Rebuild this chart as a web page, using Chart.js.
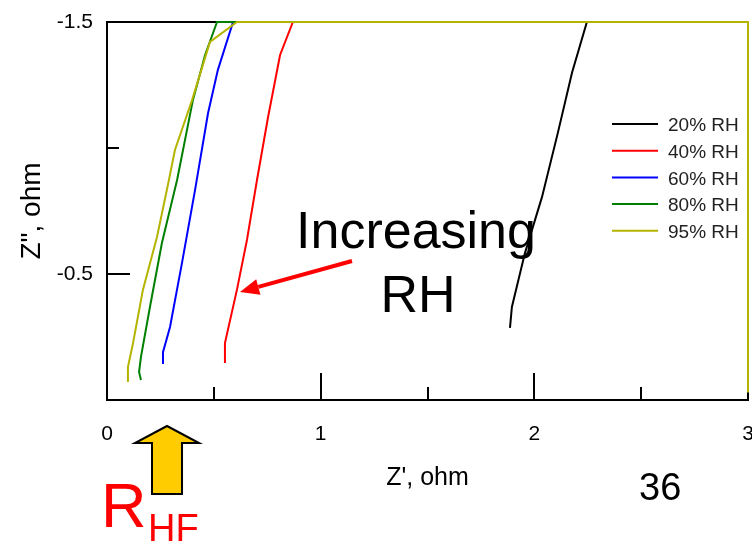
<!DOCTYPE html>
<html>
<head>
<meta charset="utf-8">
<script src="https://cdn.jsdelivr.net/npm/chart.js@4.4.1/dist/chart.umd.min.js"></script>
<style>
  html, body { margin: 0; padding: 0; background: #fff; }
</style>
</head>
<body>
<canvas id="chart" width="752" height="544"></canvas>
<script>
const FONT = "'Liberation Sans', Arial, sans-serif";

const RH_LABELS = ["20% RH", "40% RH", "60% RH", "80% RH", "95% RH"];
const COLORS = ["#000000", "#ff0000", "#0000ff", "#008000", "#b4b400"];

// Z' (x) and Z'' (y); points past the frame sit on the frame
const RH20_X = [1.886, 1.895, 1.956, 2.036, 2.110, 2.176, 2.246, 3.0];
const RH20_Y = [-0.286, -0.369, -0.583, -0.806, -1.060, -1.298, -1.5, -1.5];

const RH40_X = [0.552, 0.552, 0.608, 0.655, 0.702, 0.753, 0.810, 0.870, 3.0];
const RH40_Y = [-0.147, -0.226, -0.437, -0.635, -0.873, -1.119, -1.369, -1.5, -1.5];

const RH60_X = [0.262, 0.262, 0.295, 0.351, 0.412, 0.473, 0.519, 0.590, 3.0];
const RH60_Y = [-0.143, -0.190, -0.290, -0.544, -0.833, -1.139, -1.310, -1.5, -1.5];

const RH80_X = [0.159, 0.150, 0.159, 0.201, 0.257, 0.328, 0.402, 0.459, 0.515, 3.0];
const RH80_Y = [-0.079, -0.111, -0.171, -0.369, -0.623, -0.873, -1.190, -1.369, -1.5, -1.5];

const RH95_X = [0.098, 0.098, 0.122, 0.168, 0.234, 0.285, 0.318, 0.398, 0.482, 0.608, 3.0, 3.0];
const RH95_Y = [-0.071, -0.131, -0.226, -0.437, -0.647, -0.853, -0.992, -1.190, -1.421, -1.5, -1.5, -0.03];

const SERIES_X = [RH20_X, RH40_X, RH60_X, RH80_X, RH95_X];
const SERIES_Y = [RH20_Y, RH40_Y, RH60_Y, RH80_Y, RH95_Y];

const X_TICK_LABELS = [0, 1, 2, 3];
const Y_TICK_LABELS = [-1.5, -0.5];
const X_MINOR = [0.5, 1.5, 2.5];
const X_MAJOR = [1, 2];
const Y_MINOR = [-1];
const Y_MAJOR = [-0.5];

// later series are painted over earlier ones, like the original plot
const datasets = RH_LABELS.map((label, i) => ({
  label,
  data: SERIES_X[i].map((x, j) => ({ x, y: SERIES_Y[i][j] })),
  borderColor: COLORS[i],
  borderWidth: 2,
  showLine: true,
  pointRadius: 0,
  tension: 0,
  clip: false,
  order: RH_LABELS.length - i,
}));

// box frame + inward ticks, under the data
const framePlugin = {
  id: "frame",
  beforeDatasetsDraw(chart) {
    const { ctx, chartArea: a, scales } = chart;
    ctx.save();
    ctx.strokeStyle = "#000";
    ctx.lineWidth = 2;
    ctx.strokeRect(a.left, a.top, a.right - a.left, a.bottom - a.top);
    ctx.beginPath();
    X_MAJOR.concat(X_MINOR).forEach((v) => {
      const px = Math.round(scales.x.getPixelForValue(v));
      const len = X_MAJOR.includes(v) ? 27 : 13;
      ctx.moveTo(px, a.bottom);
      ctx.lineTo(px, a.bottom - len);
    });
    Y_MAJOR.concat(Y_MINOR).forEach((v) => {
      const py = Math.round(scales.y.getPixelForValue(v));
      const len = Y_MAJOR.includes(v) ? 23 : 12;
      ctx.moveTo(a.left, py);
      ctx.lineTo(a.left + len, py);
    });
    ctx.stroke();
    ctx.restore();
  },
};

const legendPlugin = {
  id: "rhLegend",
  afterDatasetsDraw(chart) {
    const { ctx } = chart;
    ctx.save();
    ctx.font = "19px " + FONT;
    ctx.textBaseline = "middle";
    RH_LABELS.forEach((label, i) => {
      const y = 124 + i * 26.7;
      ctx.strokeStyle = COLORS[i];
      ctx.lineWidth = 2;
      ctx.beginPath();
      ctx.moveTo(612, y);
      ctx.lineTo(658, y);
      ctx.stroke();
      ctx.fillStyle = "#222";
      ctx.fillText(label, 668, y + 2);
    });
    ctx.restore();
  },
};

const notesPlugin = {
  id: "notes",
  afterDraw(chart) {
    const { ctx } = chart;
    ctx.save();
    // "Increasing RH"
    ctx.fillStyle = "#000";
    ctx.textAlign = "center";
    ctx.textBaseline = "alphabetic";
    ctx.font = "52px " + FONT;
    ctx.fillText("Increasing", 416, 248);
    ctx.fillText("RH", 418, 312);

    // red arrow
    const x1 = 352, y1 = 261, x2 = 240, y2 = 292;
    const ang = Math.atan2(y2 - y1, x2 - x1);
    const hl = 19, hw = 8;
    const bx = x2 - hl * Math.cos(ang), by = y2 - hl * Math.sin(ang);
    ctx.strokeStyle = "#ff0000";
    ctx.fillStyle = "#ff0000";
    ctx.lineWidth = 4;
    ctx.beginPath();
    ctx.moveTo(x1, y1);
    ctx.lineTo(bx, by);
    ctx.stroke();
    ctx.beginPath();
    ctx.moveTo(x2, y2);
    ctx.lineTo(bx + hw * Math.sin(ang), by - hw * Math.cos(ang));
    ctx.lineTo(bx - hw * Math.sin(ang), by + hw * Math.cos(ang));
    ctx.closePath();
    ctx.fill();

    // gold block arrow
    ctx.fillStyle = "#ffcc00";
    ctx.strokeStyle = "#000";
    ctx.lineWidth = 2;
    ctx.beginPath();
    ctx.moveTo(167, 426);
    ctx.lineTo(199, 443);
    ctx.lineTo(182, 443);
    ctx.lineTo(182, 494);
    ctx.lineTo(152, 494);
    ctx.lineTo(152, 443);
    ctx.lineTo(135, 443);
    ctx.closePath();
    ctx.fill();
    ctx.stroke();

    // R_HF
    ctx.fillStyle = "#ff0000";
    ctx.textAlign = "left";
    ctx.font = "63px " + FONT;
    ctx.fillText("R", 101, 527);
    ctx.font = "38px " + FONT;
    ctx.fillText("HF", 148, 541);

    // page number
    ctx.fillStyle = "#000";
    ctx.font = "38px " + FONT;
    ctx.fillText("36", 639, 500);
    ctx.restore();
  },
};

new Chart(document.getElementById("chart"), {
  type: "scatter",
  data: { datasets },
  options: {
    responsive: false,
    animation: false,
    layout: { padding: { top: 22, right: 4, left: 0, bottom: 0 } },
    plugins: { legend: { display: false }, tooltip: { enabled: false } },
    scales: {
      x: {
        type: "linear",
        min: 0,
        max: 3,
        afterFit: (s) => { s.height = 144; s.paddingLeft = 0; s.paddingRight = 0; },
        afterBuildTicks: (s) => { s.ticks = X_TICK_LABELS.map((v) => ({ value: v })); },
        grid: { display: false, drawTicks: false },
        border: { display: false },
        ticks: { color: "#000", padding: 22, maxRotation: 0, font: { family: FONT, size: 21 } },
        title: {
          display: true,
          text: "Z', ohm",
          color: "#000",
          font: { family: FONT, size: 25 },
          padding: { top: 0, bottom: 51 },
        },
      },
      y: {
        type: "linear",
        reverse: true,
        min: -1.5,
        max: 0,
        afterFit: (s) => { s.width = 107; s.paddingTop = 0; s.paddingBottom = 0; },
        afterBuildTicks: (s) => { s.ticks = Y_TICK_LABELS.map((v) => ({ value: v })); },
        grid: { display: false, drawTicks: false },
        border: { display: false },
        ticks: { color: "#000", padding: 14, font: { family: FONT, size: 21 } },
        title: {
          display: true,
          text: "Z\", ohm",
          color: "#000",
          font: { family: FONT, size: 28 },
          padding: { top: 15, bottom: 0 },
        },
      },
    },
  },
  plugins: [framePlugin, legendPlugin, notesPlugin],
});
</script>
</body>
</html>
